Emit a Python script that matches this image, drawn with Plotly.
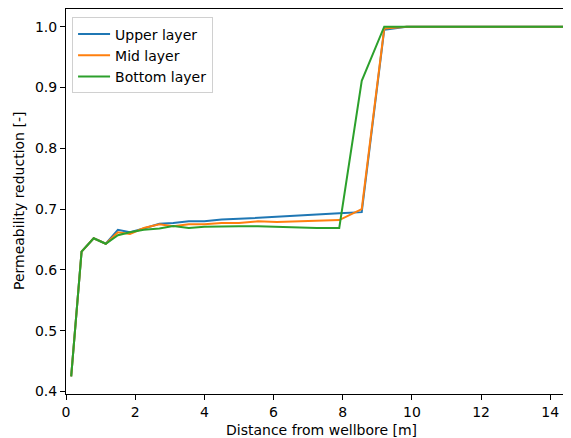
import plotly.graph_objects as go

distance = [0.15, 0.45, 0.8, 1.15, 1.5, 1.85, 2.25, 2.7, 3.1, 3.55, 4.0, 4.5, 5.0,
            5.55, 6.1, 6.65, 7.25, 7.9, 8.55, 9.2, 9.85, 10.5, 11.2, 11.9, 12.6,
            13.3, 14.0, 14.7, 15.4]
upper = [0.425, 0.630, 0.652, 0.643, 0.666, 0.662, 0.668, 0.676, 0.677, 0.680, 0.680,
         0.683, 0.684, 0.686, 0.688, 0.689, 0.691, 0.693, 0.695, 0.995, 1.0, 1.0, 1.0,
         1.0, 1.0, 1.0, 1.0, 1.0, 1.0]
mid = [0.425, 0.630, 0.652, 0.643, 0.662, 0.659, 0.669, 0.675, 0.672, 0.675, 0.675,
       0.677, 0.677, 0.680, 0.679, 0.680, 0.681, 0.682, 0.700, 0.997, 1.0, 1.0, 1.0,
       1.0, 1.0, 1.0, 1.0, 1.0, 1.0]
bottom = [0.425, 0.630, 0.652, 0.643, 0.657, 0.662, 0.666, 0.668, 0.672, 0.669, 0.671,
          0.672, 0.672, 0.672, 0.671, 0.671, 0.669, 0.669, 0.911, 1.0, 1.0, 1.0, 1.0,
          1.0, 1.0, 1.0, 1.0, 1.0, 1.0]
series_names = ["Upper layer", "Mid layer", "Bottom layer"]
colors = ["#1f77b4", "#ff7f0e", "#2ca02c"]

fig = go.Figure()
for name, ys, c in zip(series_names, [upper, mid, bottom], colors):
    fig.add_trace(go.Scatter(x=distance, y=ys, mode="lines", name=name,
                             line=dict(color=c, width=2)))

axis_common = dict(showgrid=False, zeroline=False, showline=True, linecolor="black",
                   linewidth=1, ticks="outside", ticklen=5, tickcolor="black",
                   automargin=False,
                   tickfont=dict(family="DejaVu Sans", size=14, color="black"))
# page body has an 8px default margin, so the figure is 8px smaller
fig.update_layout(
    width=563, height=430,
    margin=dict(l=58, r=0, t=1, b=44),
    paper_bgcolor="white", plot_bgcolor="white",
    font=dict(family="DejaVu Sans", size=14, color="black"),
    xaxis=dict(range=[0, 14.6], tickvals=[0, 2, 4, 6, 8, 10, 12, 14], mirror=True,
               **axis_common),
    yaxis=dict(range=[0.396, 1.029], tickvals=[0.4, 0.5, 0.6, 0.7, 0.8, 0.9, 1.0],
               tickformat=".1f", **axis_common),
    legend=dict(x=0.012, y=0.978, xanchor="left", yanchor="top",
                bgcolor="rgba(255,255,255,0.8)", bordercolor="#d0d0d0", borderwidth=1,
                font=dict(size=14), tracegroupgap=0, itemwidth=32),
    showlegend=True,
    annotations=[
        dict(text="Distance from wellbore [m]", xref="paper", yref="paper",
             x=0.505, y=-0.094, xanchor="center", yanchor="middle", showarrow=False,
             font=dict(size=14)),
        dict(text="Permeability reduction [-]", xref="paper", yref="paper",
             x=-0.094, y=0.5, xanchor="center", yanchor="middle", showarrow=False,
             textangle=-90, font=dict(size=14)),
    ],
)
fig.write_html("out.html")
